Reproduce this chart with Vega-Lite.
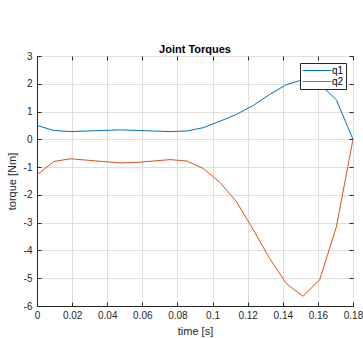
{
  "$schema": "https://vega.github.io/schema/vega-lite/v6.json",
  "width": 316,
  "height": 250,
  "autosize": {"type": "none"},
  "padding": {"left": 37, "top": 56, "right": 10, "bottom": 32},
  "background": "white",
  "title": {"text": "Joint Torques", "fontSize": 11, "font": "Liberation Sans", "fontWeight": "bold", "color": "#000000", "offset": -4, "frame": "group"},
  "config": {
    "view": {"stroke": "#262626", "strokeWidth": 1},
    "axis": {"labelFont": "Liberation Sans", "titleFont": "Liberation Sans", "labelFontSize": 10, "titleFontSize": 11, "titleFontWeight": "normal", "labelColor": "#262626", "titleColor": "#262626", "domainColor": "#262626", "tickColor": "#262626", "gridColor": "#dfdfdf", "gridOpacity": 1, "tickSize": -4, "labelPadding": 10, "labelFlush": false}
  },
  "data": {"values": [
    {"t": 0, "v": 0.5, "s": "q1"},
    {"t": 0.00947, "v": 0.32, "s": "q1"},
    {"t": 0.01895, "v": 0.28, "s": "q1"},
    {"t": 0.02842, "v": 0.3, "s": "q1"},
    {"t": 0.03789, "v": 0.32, "s": "q1"},
    {"t": 0.04737, "v": 0.34, "s": "q1"},
    {"t": 0.05684, "v": 0.32, "s": "q1"},
    {"t": 0.06632, "v": 0.3, "s": "q1"},
    {"t": 0.07579, "v": 0.28, "s": "q1"},
    {"t": 0.08526, "v": 0.3, "s": "q1"},
    {"t": 0.09474, "v": 0.42, "s": "q1"},
    {"t": 0.10421, "v": 0.65, "s": "q1"},
    {"t": 0.11368, "v": 0.9, "s": "q1"},
    {"t": 0.12316, "v": 1.22, "s": "q1"},
    {"t": 0.13263, "v": 1.62, "s": "q1"},
    {"t": 0.14211, "v": 1.97, "s": "q1"},
    {"t": 0.15158, "v": 2.15, "s": "q1"},
    {"t": 0.16105, "v": 2.0, "s": "q1"},
    {"t": 0.17053, "v": 1.42, "s": "q1"},
    {"t": 0.18, "v": 0, "s": "q1"},
    {"t": 0, "v": -1.28, "s": "q2"},
    {"t": 0.00947, "v": -0.8, "s": "q2"},
    {"t": 0.01895, "v": -0.7, "s": "q2"},
    {"t": 0.02842, "v": -0.75, "s": "q2"},
    {"t": 0.03789, "v": -0.8, "s": "q2"},
    {"t": 0.04737, "v": -0.85, "s": "q2"},
    {"t": 0.05684, "v": -0.83, "s": "q2"},
    {"t": 0.06632, "v": -0.78, "s": "q2"},
    {"t": 0.07579, "v": -0.73, "s": "q2"},
    {"t": 0.08526, "v": -0.78, "s": "q2"},
    {"t": 0.09474, "v": -1.05, "s": "q2"},
    {"t": 0.10421, "v": -1.55, "s": "q2"},
    {"t": 0.11368, "v": -2.25, "s": "q2"},
    {"t": 0.12316, "v": -3.25, "s": "q2"},
    {"t": 0.13263, "v": -4.3, "s": "q2"},
    {"t": 0.14211, "v": -5.2, "s": "q2"},
    {"t": 0.15158, "v": -5.65, "s": "q2"},
    {"t": 0.16105, "v": -5.05, "s": "q2"},
    {"t": 0.17053, "v": -3.15, "s": "q2"},
    {"t": 0.18, "v": 0, "s": "q2"}
  ]},
  "resolve": {"axis": {"x": "independent", "y": "independent"}},
  "layer": [
    {
      "mark": {"type": "line", "strokeWidth": 1, "clip": true},
      "encoding": {
        "x": {"field": "t", "type": "quantitative", "scale": {"domain": [0, 0.18], "nice": false, "zero": false},
          "axis": {"title": "time [s]", "values": [0, 0.02, 0.04, 0.06, 0.08, 0.1, 0.12, 0.14, 0.16, 0.18], "format": "~g", "labelPadding": 8, "titlePadding": 5}},
        "y": {"field": "v", "type": "quantitative", "scale": {"domain": [-6, 3], "nice": false},
          "axis": {"title": "torque [Nm]", "values": [-6, -5, -4, -3, -2, -1, 0, 1, 2, 3], "labelExpr": "replace(datum.label, '−', '-')", "labelPadding": 9, "titlePadding": 6}},
        "color": {"field": "s", "type": "nominal", "scale": {"domain": ["q1", "q2"], "range": ["#0072BD", "#D95319"]},
          "legend": {"title": null, "orient": "none", "legendX": 263, "legendY": 7, "symbolType": "M-1,0H4.8", "symbolSize": 100, "symbolStrokeWidth": 1, "labelFont": "Liberation Sans", "labelFontSize": 10, "labelColor": "#000000", "fillColor": "white", "strokeColor": "#262626", "padding": 2, "rowPadding": 0, "labelOffset": 19}}
      }
    },
    {
      "mark": {"type": "line", "opacity": 0},
      "encoding": {
        "x": {"field": "t", "type": "quantitative",
          "axis": {"orient": "top", "title": null, "labels": false, "grid": false, "domain": false, "values": [0, 0.02, 0.04, 0.06, 0.08, 0.1, 0.12, 0.14, 0.16, 0.18]}},
        "y": {"field": "v", "type": "quantitative",
          "axis": {"orient": "right", "title": null, "labels": false, "grid": false, "domain": false, "values": [-6, -5, -4, -3, -2, -1, 0, 1, 2, 3]}},
        "detail": {"field": "s", "type": "nominal"}
      }
    }
  ]
}
